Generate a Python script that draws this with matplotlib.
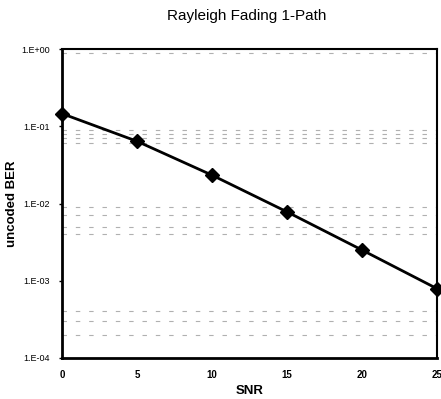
import matplotlib.pyplot as plt
import matplotlib.ticker as mticker

plt.rcParams['font.family'] = ['Liberation Sans', 'DejaVu Sans']

snr = [0, 5, 10, 15, 20, 25]
ber = [0.146, 0.064, 0.0233, 0.0078, 0.0025, 0.00079]

y_ticks = [1e-4, 1e-3, 1e-2, 1e-1, 1e0]
y_tick_labels = ['1.E-04', '1.E-03', '1.E-02', '1.E-01', '1.E+00']
x_ticks = [0, 5, 10, 15, 20, 25]

# faint grid lines left over in the scan
grid_levels = [0.9, 0.09, 0.08, 0.07, 0.06, 0.009, 0.007, 0.005,
               0.004, 0.0004, 0.0003, 0.0002]

fig = plt.figure(figsize=(4.41, 3.99), dpi=100)
ax = fig.add_axes([0.1406, 0.1028, 0.8504, 0.7742])

for g in grid_levels:
    ax.axhline(g, color='#b0b0b0', lw=0.8, ls=(0, (4, 8)), zorder=1)

ax.plot(snr, ber, color='black', lw=2, marker='D', markersize=7, zorder=3,
        clip_on=False)

ax.set_yscale('log')
ax.set_xlim(0, 25)
ax.set_ylim(1e-4, 1e0)
ax.set_yticks(y_ticks)
ax.set_yticklabels(y_tick_labels)
ax.yaxis.set_minor_locator(mticker.NullLocator())
ax.set_xticks(x_ticks)

ax.tick_params(axis='y', labelsize=6.5, length=2, width=1, direction='out', pad=7)
ax.tick_params(axis='x', labelsize=7, length=0, pad=9)
for lbl in ax.get_xticklabels():
    lbl.set_fontweight('bold')

for side in ['left', 'bottom']:
    ax.spines[side].set_linewidth(2)
for side in ['top', 'right']:
    ax.spines[side].set_linewidth(1.5)

ax.set_xlabel('SNR', fontsize=9.5, fontweight='bold', labelpad=3)
ax.set_ylabel('uncoded BER', fontsize=9.5, fontweight='bold', labelpad=2)
fig.suptitle('Rayleigh Fading 1-Path', fontsize=11, x=0.56, y=0.978)

fig.savefig('out.png', dpi=100)
